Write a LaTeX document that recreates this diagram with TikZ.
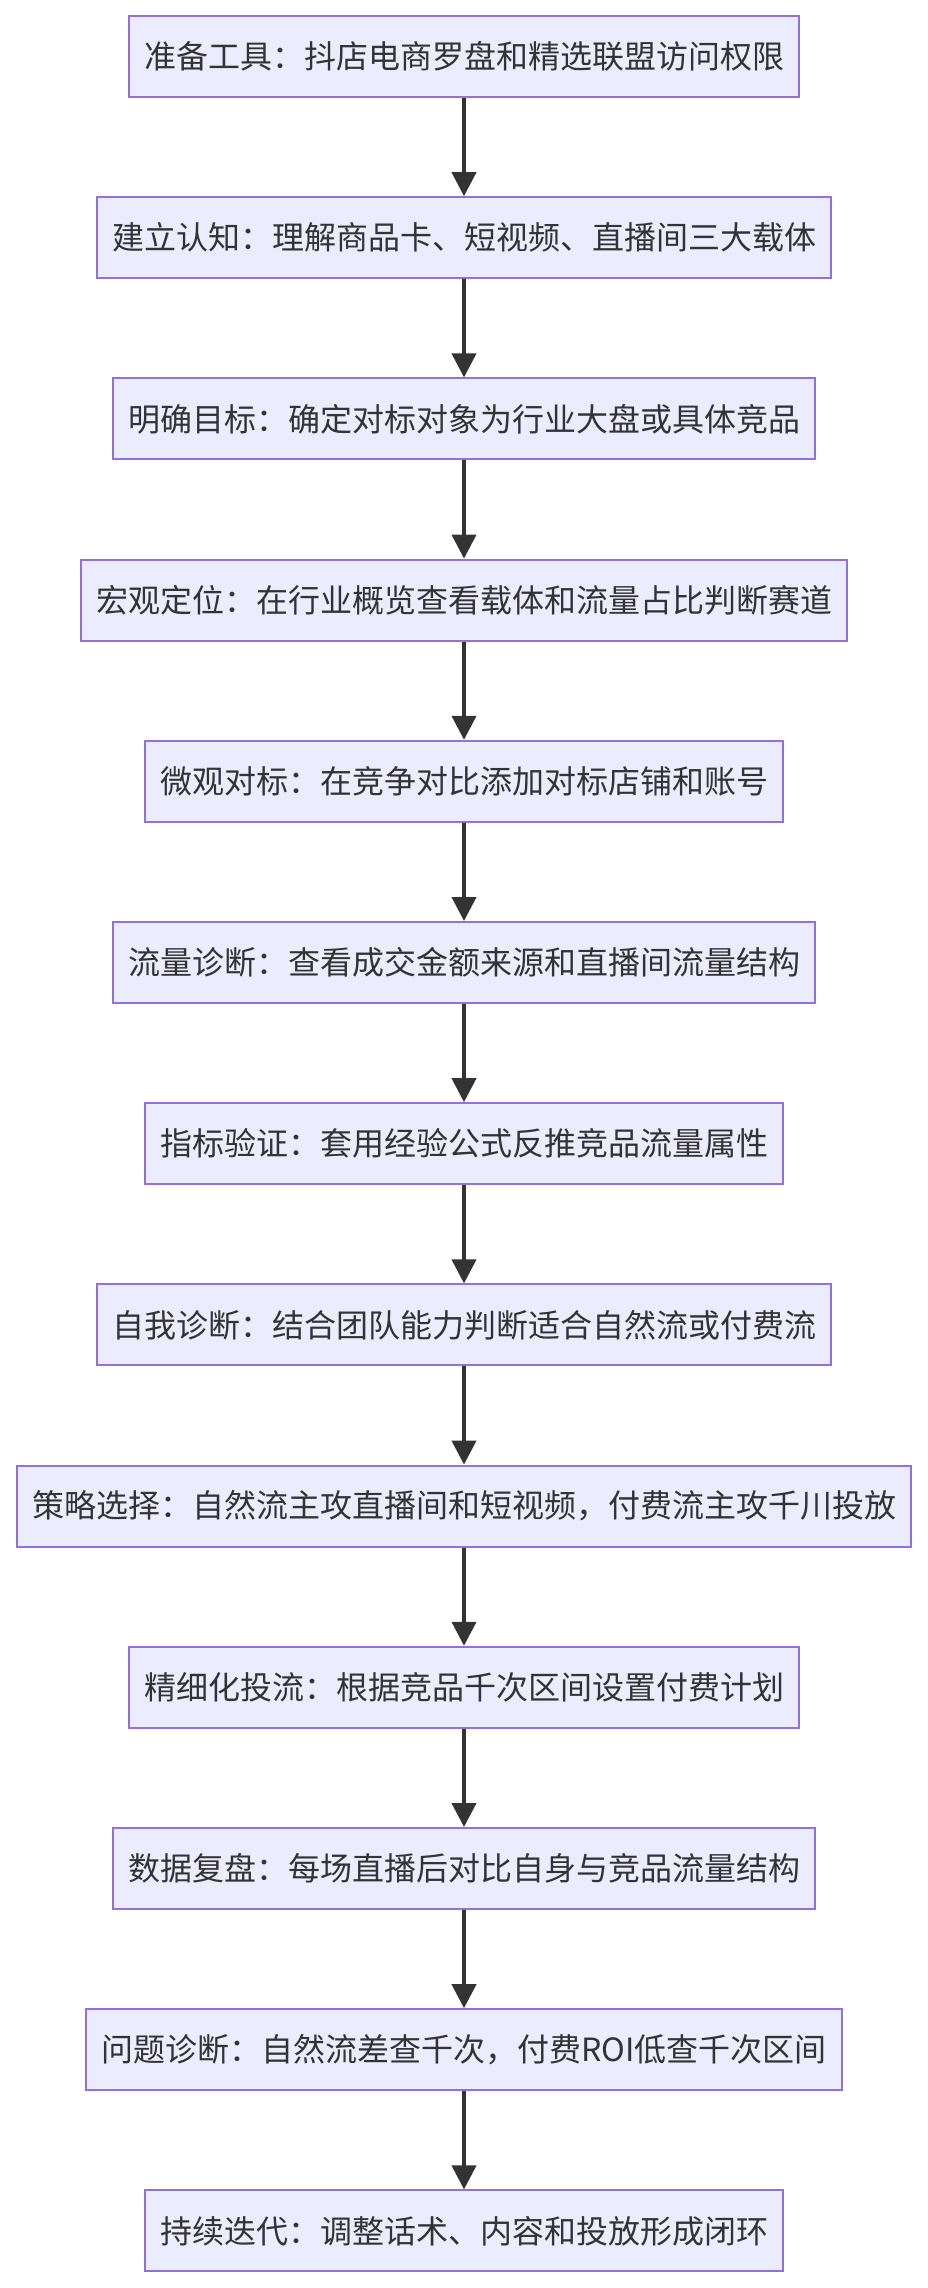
\documentclass[tikz,border=0pt]{standalone}
\usepackage{fontspec}
\setmainfont{Noto Sans CJK SC}
\usetikzlibrary{arrows.meta}
\definecolor{boxfill}{HTML}{ECECFF}
\definecolor{boxline}{HTML}{9370DB}
\definecolor{ink}{HTML}{333333}
\tikzset{
  stepbox/.style={draw=boxline, fill=boxfill, line width=2pt, rectangle,
    minimum height=81pt, inner xsep=15pt, inner ysep=0pt, text=ink,
    font=\fontsize{32pt}{38pt}\selectfont},
  flow/.style={draw=ink, line width=4pt, -{Triangle[width=24pt,length=24pt]}}
}
\begin{document}
\begin{tikzpicture}[x=1pt,y=1pt]
\useasboundingbox (0,0) rectangle (928,-2288);
\node[stepbox] (n1)  at (464,-56.5)  {准备工具：抖店电商罗盘和精选联盟访问权限};
\node[stepbox] (n2)  at (464,-237.7) {建立认知：理解商品卡、短视频、直播间三大载体};
\node[stepbox] (n3)  at (464,-418.9) {明确目标：确定对标对象为行业大盘或具体竞品};
\node[stepbox] (n4)  at (464,-600.1) {宏观定位：在行业概览查看载体和流量占比判断赛道};
\node[stepbox] (n5)  at (464,-781.3) {微观对标：在竞争对比添加对标店铺和账号};
\node[stepbox] (n6)  at (464,-962.5) {流量诊断：查看成交金额来源和直播间流量结构};
\node[stepbox] (n7)  at (464,-1143.7) {指标验证：套用经验公式反推竞品流量属性};
\node[stepbox] (n8)  at (464,-1324.9) {自我诊断：结合团队能力判断适合自然流或付费流};
\node[stepbox] (n9)  at (464,-1506.1) {策略选择：自然流主攻直播间和短视频，付费流主攻千川投放};
\node[stepbox] (n10) at (464,-1687.3) {精细化投流：根据竞品千次区间设置付费计划};
\node[stepbox] (n11) at (464,-1868.5) {数据复盘：每场直播后对比自身与竞品流量结构};
\node[stepbox] (n12) at (464,-2049.7) {问题诊断：自然流差查千次，付费ROI低查千次区间};
\node[stepbox] (n13) at (464,-2230.9) {持续迭代：调整话术、内容和投放形成闭环};
\foreach \a/\b in {n1/n2,n2/n3,n3/n4,n4/n5,n5/n6,n6/n7,n7/n8,n8/n9,n9/n10,n10/n11,n11/n12,n12/n13}
  \draw[flow] (\a.south) -- (\b.north);
\end{tikzpicture}
\end{document}
